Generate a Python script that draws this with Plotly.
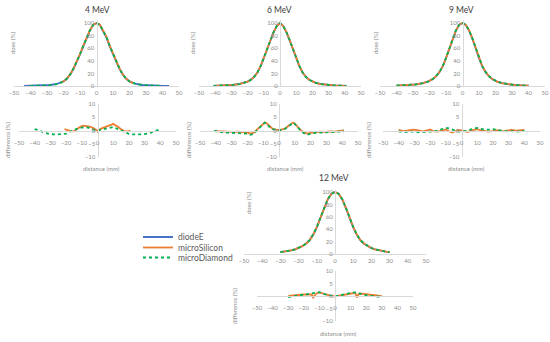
import plotly.graph_objects as go

# ---------------- data ----------------
series_names = ["diodeE", "microSilicon", "microDiamond"]
panel_titles = ["4 MeV", "6 MeV", "9 MeV", "12 MeV"]
x_ticks = [-50, -40, -30, -20, -10, 0, 10, 20, 30, 40, 50]
dose_ticks = [0, 20, 40, 60, 80, 100]
diff_ticks = [-10, -5, 0, 5, 10]

# 4 MeV dose
x4_diode = [-44, -40, -36, -32, -28, -24, -22, -20, -18, -16, -14, -12, -10, -8, -6, -4, -2, 0,
            2, 4, 6, 8, 10, 12, 14, 16, 18, 20, 22, 24, 28, 32, 36, 40, 44]
dose4_diode = [0.2, 0.3, 0.5, 0.9, 1.6, 3.2, 4.6, 7.2, 11.5, 18, 27, 38, 50, 63, 77, 88, 97, 100,
               97, 88, 77, 63, 50, 38, 27, 18, 11.5, 7.2, 4.6, 3.2, 1.6, 0.9, 0.5, 0.3, 0.2]
x4_silicon = [-22, -20, -18, -16, -14, -12, -10, -8, -6, -4, -2, 0, 2, 4, 6, 8, 10, 12, 14, 16, 18, 20, 22]
dose4_silicon = [4.7, 7.4, 11.7, 18.3, 27.5, 38.6, 50.8, 64, 78, 88.6, 97.3, 99.6, 97.6, 89, 78.3,
                 64.3, 51.2, 38.9, 27.6, 18.2, 11.6, 7.3, 4.6]
x4_diamond = [-40, -36, -32, -28, -24, -22, -20, -18, -16, -14, -12, -10, -8, -6, -4, -2, 0,
              2, 4, 6, 8, 10, 12, 14, 16, 18, 20, 22, 24, 28, 32, 36, 40]
dose4_diamond = [0.3, 0.4, 0.8, 1.4, 3.0, 4.5, 7.1, 11.5, 18.2, 27.3, 38.4, 50.6, 63.6, 77.5, 88.3, 97.2, 100,
                 97.3, 88.5, 77.8, 63.8, 50.7, 38.5, 27.3, 18.1, 11.5, 7.1, 4.5, 3.0, 1.4, 0.8, 0.4, 0.3]
# 4 MeV difference
xd4_silicon = [-21, -19, -17, -15, -13, -11, -9, -7, -5, -3, -1, 0, 1, 3, 5, 7, 9, 10, 11, 13, 15, 17, 19, 21]
diff4_silicon = [0.5, 0.0, -0.2, -0.3, 0.5, 1.4, 1.8, 1.7, 1.5, 1.0, 0.3, -0.4, 0.3, 0.9, 1.3, 1.6, 2.2,
                 2.5, 2.2, 1.4, 0.5, -0.2, -0.3, 0.0]
xd4_diamond = [-40, -37, -34, -30, -26, -22, -20, -17, -14, -12, -10, -8, -6, -4, -2, 0, 2, 4, 6, 8,
               10, 12, 14, 17, 20, 22, 26, 30, 34, 37, 40]
diff4_diamond = [0.5, 0.0, -0.8, -1.4, -1.5, -1.4, -1.2, -0.3, 0.5, 0.9, 1.1, 1.3, 1.1, 0.6, 0.2, 0.0,
                 0.3, 0.6, 0.9, 1.1, 1.3, 0.8, 0.2, -0.6, -1.3, -1.5, -1.5, -1.4, -0.8, 0.0, 0.5]

# 6 MeV dose
x6 = [-41, -37, -33, -29, -25, -22, -20, -18, -16, -14, -12, -10, -8, -6, -4, -2, 0,
      2, 4, 6, 8, 10, 12, 14, 16, 18, 20, 22, 25, 29, 33, 37, 41]
dose6_diode = [0.3, 0.6, 1.0, 1.8, 3.2, 5.0, 7.0, 10, 14.5, 21, 31, 44, 58, 72, 85, 95, 100,
               95, 85, 72, 58, 44, 31, 21, 14.5, 10, 7.0, 5.0, 3.2, 1.8, 1.0, 0.6, 0.3]
dose6_silicon = [0.3, 0.6, 1.0, 1.8, 3.1, 4.9, 6.9, 9.8, 14.4, 21.3, 31.6, 44.8, 58.9, 72.6, 85.3, 95.2, 100,
                 95.3, 85.4, 72.8, 59.2, 45.0, 31.7, 21.3, 14.3, 9.8, 6.9, 4.9, 3.1, 1.8, 1.0, 0.6, 0.3]
dose6_diamond = [0.3, 0.6, 1.0, 1.8, 3.1, 4.9, 6.9, 9.8, 14.3, 21.2, 31.5, 44.7, 58.8, 72.5, 85.2, 95.1, 100,
                 95.2, 85.3, 72.6, 59.0, 44.9, 31.6, 21.2, 14.2, 9.8, 6.9, 4.9, 3.1, 1.8, 1.0, 0.6, 0.3]
# 6 MeV difference
xd6 = [-41, -38, -35, -32, -29, -26, -23, -20, -18, -16, -14, -12, -10, -9, -8, -6, -4, -2, 0, 2,
       4, 6, 8, 9, 10, 12, 14, 16, 18, 20, 23, 26, 29, 32, 35, 38, 41]
diff6_silicon = [-0.2, -0.3, -0.4, -0.3, -0.5, -0.4, -0.5, -0.8, -1.2, -0.8, 0.3, 1.5, 2.6, 3.0, 2.8, 1.5,
                 0.6, 0.3, 0.2, 0.4, 0.8, 1.8, 2.8, 3.0, 2.6, 1.2, 0.0, -0.8, -1.2, -0.9, -0.6, -0.4,
                 -0.5, -0.3, -0.4, -0.2, 0.0]
diff6_diamond = [0.0, -0.5, -0.7, -0.8, -0.7, -0.8, -1.0, -1.2, -1.6, -1.2, 0.0, 1.3, 2.5, 3.0, 2.7, 1.3,
                 0.5, 0.2, 0.1, 0.3, 0.7, 1.6, 2.6, 2.9, 2.5, 1.0, -0.2, -1.1, -1.6, -1.3, -0.9, -0.8,
                 -0.7, -0.8, -0.6, -0.4, 0.0]

# 9 MeV dose
x9 = [-40, -36, -32, -28, -24, -21, -18, -16, -14, -12, -10, -8, -6, -4, -2, 0,
      2, 4, 6, 8, 10, 12, 14, 16, 18, 21, 24, 28, 32, 36, 40]
dose9_diode = [0.5, 0.9, 1.5, 2.6, 4.5, 7.0, 11, 15.5, 22, 31, 44, 59, 75, 88, 97, 100,
               97, 88, 75, 59, 44, 31, 22, 15.5, 11, 7.0, 4.5, 2.6, 1.5, 0.9, 0.5]
dose9_silicon = [0.5, 0.9, 1.5, 2.6, 4.5, 7.0, 11.1, 15.6, 22.1, 31.2, 44.2, 59.3, 75.2, 88.1, 97.1, 100,
                 97, 88.2, 75.4, 59.5, 44.4, 31.4, 22.2, 15.6, 11, 7.0, 4.5, 2.6, 1.5, 0.9, 0.5]
dose9_diamond = [0.5, 0.9, 1.5, 2.6, 4.5, 7.0, 11.1, 15.7, 22.2, 31.3, 44.4, 59.5, 75.5, 88.3, 97.2, 100,
                 97.1, 88.3, 75.6, 59.7, 44.6, 31.5, 22.3, 15.7, 11.1, 7.1, 4.5, 2.6, 1.5, 0.9, 0.5]
# 9 MeV difference
xd9 = [-40, -37, -34, -31, -28, -25, -22, -20, -18, -15, -12, -10, -8, -6, -4, -2, 0, 2, 4, 6,
       8, 10, 12, 14, 17, 20, 23, 26, 29, 32, 35, 38, 40]
diff9_silicon = [0.2, -0.2, 0.0, 0.3, 0.1, -0.3, 0.0, 0.4, -0.2, -0.4, 0.0, 0.4, -0.3, -0.8, -0.3, 0.2,
                 0.0, -0.4, -0.6, 0.0, 0.4, 0.5, 0.1, -0.2, -0.4, -0.2, 0.1, -0.3, 0.0, 0.2, -0.1, 0.1, 0.2]
diff9_diamond = [-0.3, -0.6, -0.5, -0.4, -0.6, -0.5, -0.3, -0.2, -0.4, 0.0, 0.6, 1.0, 0.8, 0.3, 0.0, -0.3,
                 -0.5, -0.2, 0.1, 0.5, 0.8, 1.0, 0.7, 0.4, 0.3, 0.5, 0.2, -0.1, -0.3, -0.2, -0.4, -0.3, 0.0]

# 12 MeV dose
x12 = [-30, -28, -26, -24, -22, -20, -18, -16, -14, -12, -10, -8, -6, -4, -2, 0,
       2, 4, 6, 8, 10, 12, 14, 16, 18, 20, 22, 24, 26, 28, 30]
dose12_diode = [3.0, 3.8, 4.8, 6.0, 7.5, 9.5, 12.5, 16.5, 22, 31, 43, 58, 74, 88, 97, 100,
                97, 88, 74, 58, 43, 31, 22, 16.5, 12.5, 9.5, 7.5, 6.0, 4.8, 3.8, 3.0]
dose12_silicon = [3.0, 3.8, 4.8, 6.0, 7.5, 9.6, 12.6, 16.6, 22.1, 31.3, 43.5, 58.5, 74.4, 88.2, 97.1, 100,
                  97.1, 88.3, 74.5, 58.6, 43.6, 31.4, 22.2, 16.6, 12.6, 9.6, 7.5, 6.0, 4.8, 3.8, 3.0]
dose12_diamond = [3.0, 3.8, 4.8, 6.0, 7.5, 9.6, 12.6, 16.7, 22.2, 31.4, 43.6, 58.6, 74.5, 88.3, 97.2, 100,
                  97.1, 88.3, 74.5, 58.7, 43.7, 31.5, 22.3, 16.7, 12.6, 9.6, 7.5, 6.0, 4.8, 3.8, 3.0]
# 12 MeV difference
xd12 = [-30, -28, -26, -24, -22, -20, -18, -16, -15, -14, -13, -12, -10, -8, -6, -4, -2, 0, 2, 4,
        6, 8, 10, 12, 13, 14, 15, 16, 18, 20, 22, 24, 26, 28, 30]
diff12_silicon = [0.0, 0.2, 0.3, 0.4, 0.5, 0.6, 0.7, 0.8, 0.6, -0.6, 0.5, 1.0, 1.4, 1.0, 0.6, 0.3, 0.0,
                  -0.2, 0.0, 0.2, 0.4, 0.7, 1.0, 1.2, 1.3, -0.6, 0.6, 1.0, 0.8, 0.6, 0.4, 0.3, 0.2, 0.1, 0.0]
diff12_diamond = [-0.4, -0.2, 0.0, 0.2, 0.4, 0.5, 0.7, 0.9, 1.0, 1.0, 1.1, 1.2, 1.5, 1.0, 0.6, 0.3, 0.0,
                  -0.1, 0.1, 0.3, 0.6, 0.9, 1.3, 1.5, 1.4, 1.3, 1.1, 1.0, 0.6, 0.3, 0.1, -0.1, -0.2, -0.3, -0.4]

# ---------------- styling / layout ----------------
W, H = 550, 342
COLORS = {"diodeE": "#4472C4", "microSilicon": "#ED7D31", "microDiamond": "#00B050"}
DASH = {"diodeE": "solid", "microSilicon": "solid", "microDiamond": "dot"}
FONT = "Lato, 'Open Sans', sans-serif"
TICK_FONT = dict(family=FONT, size=6, color="#8c8c8c")
AX_COLOR = "#d9d9d9"


def fx(px):
    return px / W


def fy(py):
    return 1 - py / H


def span(v0, p0, v1, p1, r0, r1):
    s = (p1 - p0) / (v1 - v0)
    return p0 + (r0 - v0) * s, p0 + (r1 - v0) * s


panels = [
    dict(dose=[(x4_diode, dose4_diode), (x4_silicon, dose4_silicon), (x4_diamond, dose4_diamond)],
         diff=[(xd4_silicon, diff4_silicon), (xd4_diamond, diff4_diamond)],
         dx=(14, 179), dy=(86, 23), fx_=(19, 176), fy_=(104, 157),
         title=(97, 10), dose_lab=(12, 43), diff_lab=(7, 140), dist_lab=(101, 168)),
    dict(dose=[(x6, dose6_diode), (x6, dose6_silicon), (x6, dose6_diamond)],
         diff=[(xd6, diff6_silicon), (xd6, diff6_diamond)],
         dx=(199, 361), dy=(86, 23), fx_=(200, 358), fy_=(104, 157),
         title=(279, 10), dose_lab=(192, 43), diff_lab=(188, 140), dist_lab=(285, 168)),
    dict(dose=[(x9, dose9_diode), (x9, dose9_silicon), (x9, dose9_diamond)],
         diff=[(xd9, diff9_silicon), (xd9, diff9_diamond)],
         dx=(380, 545), dy=(86, 23), fx_=(383, 540), fy_=(104, 157),
         title=(461, 10), dose_lab=(375, 43), diff_lab=(368, 140), dist_lab=(466, 168)),
    dict(dose=[(x12, dose12_diode), (x12, dose12_silicon), (x12, dose12_diamond)],
         diff=[(xd12, diff12_silicon), (xd12, diff12_diamond)],
         dx=(244, 426), dy=(254, 192), fx_=(257, 413), fy_=(271, 321),
         title=(334, 178), dose_lab=(248, 203), diff_lab=(234, 306), dist_lab=(338, 333)),
]

fig = go.Figure()
layout = dict(width=W, height=H, margin=dict(l=0, r=0, t=0, b=0, autoexpand=False),
              paper_bgcolor="white", plot_bgcolor="white", showlegend=True,
              font=dict(family=FONT, color="#595959"))
annotations = []
ax_n = 0
legend_names = {"diodeE": "legend", "microSilicon": "legend2", "microDiamond": "legend3"}

for pi, p in enumerate(panels):
    # ---- dose subplot ----
    ax_n += 1
    xa, ya = f"xaxis{ax_n}", f"yaxis{ax_n}"
    xr, yr = f"x{ax_n}", f"y{ax_n}"
    xd0, xd1 = span(-50, p["dx"][0], 50, p["dx"][1], -50, 50)
    yb, yt = span(0, p["dy"][0], 100, p["dy"][1], 0, 104)
    x0px = (p["dx"][0] + p["dx"][1]) / 2
    layout[xa] = dict(domain=[fx(xd0), fx(xd1)], range=[-50, 50], anchor=yr, automargin=False,
                      tickvals=x_ticks, showgrid=False, zeroline=False, showline=True,
                      linecolor=AX_COLOR, linewidth=1, ticks="", tickfont=TICK_FONT,
                      ticklabelstandoff=1)
    layout[ya] = dict(domain=[fy(yb), fy(yt)], range=[0, 104], anchor="free", position=fx(x0px),
                      automargin=False,
                      tickvals=dose_ticks, showgrid=False, zeroline=False, showline=True,
                      linecolor=AX_COLOR, linewidth=1, ticks="", tickfont=TICK_FONT,
                      ticklabelstandoff=1)
    for name, (xs, ys) in zip(series_names, p["dose"]):
        fig.add_trace(go.Scatter(x=xs, y=ys, mode="lines", name=name, xaxis=xr, yaxis=yr,
                                 line=dict(color=COLORS[name], width=1.8, dash=DASH[name]),
                                 showlegend=(pi == 0), legend=legend_names[name]))
    # ---- difference subplot ----
    ax_n += 1
    xa, ya = f"xaxis{ax_n}", f"yaxis{ax_n}"
    xr, yr = f"x{ax_n}", f"y{ax_n}"
    x0px = (p["fx_"][0] + p["fx_"][1]) / 2
    y0px = (p["fy_"][0] + p["fy_"][1]) / 2
    layout[xa] = dict(domain=[fx(p["fx_"][0]), fx(p["fx_"][1])], range=[-50, 50], anchor="free",
                      position=fy(y0px), tickvals=x_ticks, showgrid=False, zeroline=False,
                      automargin=False,
                      showline=True, linecolor=AX_COLOR, linewidth=1, ticks="",
                      tickfont=TICK_FONT, ticklabelstandoff=6)
    layout[ya] = dict(domain=[fy(p["fy_"][1]), fy(p["fy_"][0])], range=[-10, 10], anchor="free",
                      position=fx(x0px), tickvals=diff_ticks, showgrid=False, zeroline=False,
                      automargin=False,
                      showline=True, linecolor=AX_COLOR, linewidth=1, ticks="",
                      tickfont=TICK_FONT, ticklabelstandoff=1)
    for name, (xs, ys) in zip(series_names[1:], p["diff"]):
        fig.add_trace(go.Scatter(x=xs, y=ys, mode="lines", name=name, xaxis=xr, yaxis=yr,
                                 line=dict(color=COLORS[name], width=1.8, dash=DASH[name]),
                                 showlegend=False))
    # ---- text ----
    annotations.append(dict(text=panel_titles[pi], x=fx(p["title"][0]), y=fy(p["title"][1]),
                            xref="paper", yref="paper", showarrow=False, xanchor="center",
                            yanchor="middle", font=dict(family=FONT, size=8.5, color="#404040")))
    annotations.append(dict(text="dose (%)", x=fx(p["dose_lab"][0]), y=fy(p["dose_lab"][1]),
                            xref="paper", yref="paper", showarrow=False, textangle=-90,
                            xanchor="center", yanchor="middle",
                            font=dict(family=FONT, size=6, color="#8c8c8c")))
    annotations.append(dict(text="difference (%)", x=fx(p["diff_lab"][0]), y=fy(p["diff_lab"][1]),
                            xref="paper", yref="paper", showarrow=False, textangle=-90,
                            xanchor="center", yanchor="middle",
                            font=dict(family=FONT, size=6, color="#8c8c8c")))
    annotations.append(dict(text="distance (mm)", x=fx(p["dist_lab"][0]), y=fy(p["dist_lab"][1]),
                            xref="paper", yref="paper", showarrow=False,
                            xanchor="center", yanchor="middle",
                            font=dict(family=FONT, size=6, color="#8c8c8c")))

leg_y = {"legend": 237, "legend2": 247.5, "legend3": 257.5}
for lg, py in leg_y.items():
    layout[lg] = dict(x=fx(138), y=fy(py), xanchor="left", yanchor="middle",
                      bgcolor="rgba(0,0,0,0)", borderwidth=0,
                      font=dict(family=FONT, size=8.5, color="#595959"))

layout["annotations"] = annotations
fig.update_layout(**layout)
fig.write_html("out.html", config={"displayModeBar": False},
               post_script="document.body.style.margin='0';document.body.style.padding='0';")
